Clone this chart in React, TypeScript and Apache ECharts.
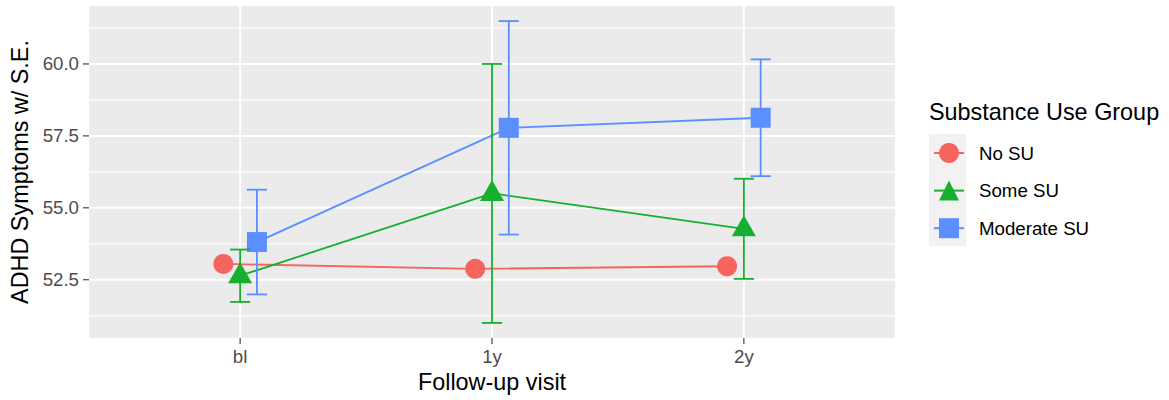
import React, { useEffect, useRef } from "react";
import * as echarts from "echarts";

// ---- data ----
const categories = ["bl", "1y", "2y"];
const groups = ["No SU", "Some SU", "Moderate SU"];
const noSU = [53.05, 52.88, 52.97];
const someSU = [52.64, 55.5, 54.27];
const moderateSU = [53.81, 57.78, 58.13];
const seSome = [0.91, 4.5, 1.74];
const seModerate = [1.82, 3.71, 2.03];
const yTicks = [52.5, 55.0, 57.5, 60.0];
const yMinorTicks = [51.25, 53.75, 56.25, 58.75, 61.25];

// ---- styling ----
const COLORS = ["#F5645E", "#16AF30", "#5B8EFF"];
const FONT = "'Liberation Sans', Arial, Helvetica, sans-serif";
const DODGE = 0.2;
const X_MIN = -0.6;
const X_MAX = categories.length - 1 + 0.6;
const CAP = 0.04;
const TICK_LEN = 6;
const TICK_COLOR = "#333333";

const offsetFor = (g: number) => (g - 1) * (DODGE / 3);

const allLow = [
  ...noSU,
  ...someSU.map((v, i) => v - seSome[i]),
  ...moderateSU.map((v, i) => v - seModerate[i]),
];
const allHigh = [
  ...noSU,
  ...someSU.map((v, i) => v + seSome[i]),
  ...moderateSU.map((v, i) => v + seModerate[i]),
];
const lo = Math.min(...allLow);
const hi = Math.max(...allHigh);
const pad = (hi - lo) * 0.05;
const Y_MIN = lo - pad;
const Y_MAX = hi + pad;

function hGrid(values: number[], width: number) {
  return {
    type: "custom",
    silent: true,
    z: 1,
    clip: false,
    data: values.map((v) => [X_MIN, v]),
    encode: { x: 0, y: 1 },
    renderItem: (params: any, api: any) => {
      const y = api.coord([X_MIN, api.value(1)])[1];
      const cs = params.coordSys;
      return {
        type: "group",
        children: [
          {
            type: "line",
            shape: { x1: cs.x, y1: y, x2: cs.x + cs.width, y2: y },
            style: { stroke: "#FFFFFF", lineWidth: width },
          },
        ],
      };
    },
  };
}

function vGrid(values: number[], width: number) {
  return {
    type: "custom",
    silent: true,
    z: 1,
    clip: false,
    data: values.map((v) => [v, Y_MIN]),
    encode: { x: 0, y: 1 },
    renderItem: (params: any, api: any) => {
      const x = api.coord([api.value(0), Y_MIN])[0];
      const cs = params.coordSys;
      return {
        type: "line",
        shape: { x1: x, y1: cs.y, x2: x, y2: cs.y + cs.height },
        style: { stroke: "#FFFFFF", lineWidth: width },
      };
    },
  };
}

function yTickMarks(values: number[]) {
  return {
    type: "custom",
    silent: true,
    z: 1,
    clip: false,
    data: values.map((v) => [X_MIN, v]),
    encode: { x: 0, y: 1 },
    renderItem: (params: any, api: any) => {
      const y = api.coord([X_MIN, api.value(1)])[1];
      const cs = params.coordSys;
      return {
        type: "line",
        shape: { x1: cs.x - TICK_LEN, y1: y, x2: cs.x, y2: y },
        style: { stroke: TICK_COLOR, lineWidth: 1.1 },
      };
    },
  };
}

function xTickMarks(values: number[]) {
  return {
    type: "custom",
    silent: true,
    z: 1,
    clip: false,
    data: values.map((v) => [v, Y_MIN]),
    encode: { x: 0, y: 1 },
    renderItem: (params: any, api: any) => {
      const x = api.coord([api.value(0), Y_MIN])[0];
      const cs = params.coordSys;
      const yb = cs.y + cs.height;
      return {
        type: "line",
        shape: { x1: x, y1: yb, x2: x, y2: yb + TICK_LEN },
        style: { stroke: TICK_COLOR, lineWidth: 1.1 },
      };
    },
  };
}

function errorSeries(values: number[], se: number[], g: number) {
  const color = COLORS[g];
  return {
    type: "custom",
    silent: true,
    z: 4,
    data: values.map((v, i) => [i + offsetFor(g), v - se[i], v + se[i]]),
    encode: { x: 0, y: [1, 2] },
    renderItem: (_params: any, api: any) => {
      const x = api.value(0);
      const l = api.coord([x, api.value(1)]);
      const h = api.coord([x, api.value(2)]);
      const hl = api.coord([x - CAP, api.value(2)]);
      const hr = api.coord([x + CAP, api.value(2)]);
      const ll = api.coord([x - CAP, api.value(1)]);
      const lr = api.coord([x + CAP, api.value(1)]);
      const style = { stroke: color, lineWidth: 1.8 };
      return {
        type: "group",
        children: [
          { type: "line", shape: { x1: l[0], y1: l[1], x2: h[0], y2: h[1] }, style },
          { type: "line", shape: { x1: hl[0], y1: hl[1], x2: hr[0], y2: hr[1] }, style },
          { type: "line", shape: { x1: ll[0], y1: ll[1], x2: lr[0], y2: lr[1] }, style },
        ],
      };
    },
  };
}

function lineSeries(values: number[], g: number, symbol: string, size: any, offset?: any) {
  return {
    type: "line",
    name: groups[g],
    silent: true,
    z: 3,
    data: values.map((v, i) => [i + offsetFor(g), v]),
    symbol,
    symbolSize: size,
    symbolOffset: offset || [0, 0],
    showSymbol: true,
    itemStyle: { color: COLORS[g], opacity: 1 },
    lineStyle: { color: COLORS[g], width: 1.8 },
    emphasis: { disabled: true },
  };
}

export default function App() {
  const ref = useRef<HTMLDivElement>(null);

  useEffect(() => {
    document.body.style.margin = "0";
    if (!ref.current) return;
    const chart = echarts.init(ref.current, undefined, { renderer: "svg" });
    const xTickValues = categories.map((_, i) => i);
    chart.setOption({
      animation: false,
      textStyle: { fontFamily: FONT },
      title: {
        text: "Substance Use Group",
        left: 929,
        top: 100,
        padding: 0,
        textStyle: { fontSize: 23.4, fontWeight: "normal", color: "#000000", fontFamily: FONT },
      },
      graphic: [
        {
          type: "rect",
          z: 0,
          shape: { x: 929, y: 134, width: 37, height: 112 },
          style: { fill: "#F2F2F2" },
          silent: true,
        },
      ],
      legend: {
        data: groups,
        orient: "vertical",
        left: 933,
        top: 140.5,
        itemWidth: 30,
        itemHeight: 25,
        itemGap: 12.6,
        selectedMode: false,
        padding: 0,
        textStyle: {
          fontSize: 18.7,
          color: "#000000",
          fontFamily: FONT,
          padding: [0, 0, 0, 10],
          lineHeight: 25,
        },
      },
      grid: {
        left: 89,
        right: 274,
        top: 6,
        bottom: 62,
        show: true,
        backgroundColor: "#EBEBEB",
        borderWidth: 0,
        containLabel: false,
      },
      xAxis: {
        type: "value",
        min: X_MIN,
        max: X_MAX,
        axisLine: { show: false },
        splitLine: { show: false },
        axisTick: { show: false },
        axisLabel: {
          customValues: xTickValues,
          formatter: (v: number) => categories[Math.round(v)] ?? "",
          color: "#4D4D4D",
          fontSize: 18.7,
          margin: 9,
          fontFamily: FONT,
        },
        name: "Follow-up visit",
        nameLocation: "middle",
        nameGap: 30,
        nameTextStyle: { fontSize: 23.4, color: "#000000", fontFamily: FONT },
      },
      yAxis: {
        type: "value",
        min: Y_MIN,
        max: Y_MAX,
        axisLine: { show: false },
        splitLine: { show: false },
        axisTick: { show: false },
        axisLabel: {
          customValues: yTicks,
          formatter: (v: number) => v.toFixed(1),
          color: "#4D4D4D",
          fontSize: 18.7,
          margin: 10,
          fontFamily: FONT,
        },
        name: "ADHD Symptoms w/ S.E.",
        nameLocation: "middle",
        nameGap: 48,
        nameTextStyle: { fontSize: 23.4, color: "#000000", fontFamily: FONT },
      },
      series: [
        hGrid(yMinorTicks, 1.1),
        hGrid(yTicks, 2),
        vGrid(xTickValues, 2),
        yTickMarks(yTicks),
        xTickMarks(xTickValues),
        lineSeries(noSU, 0, "circle", 20),
        lineSeries(someSU, 1, "triangle", [24, 21], [0, -3]),
        lineSeries(moderateSU, 2, "rect", 20),
        errorSeries(someSU, seSome, 1),
        errorSeries(moderateSU, seModerate, 2),
      ],
    });
    return () => chart.dispose();
  }, []);

  return <div ref={ref} style={{ width: 1169, height: 400 }} />;
}
